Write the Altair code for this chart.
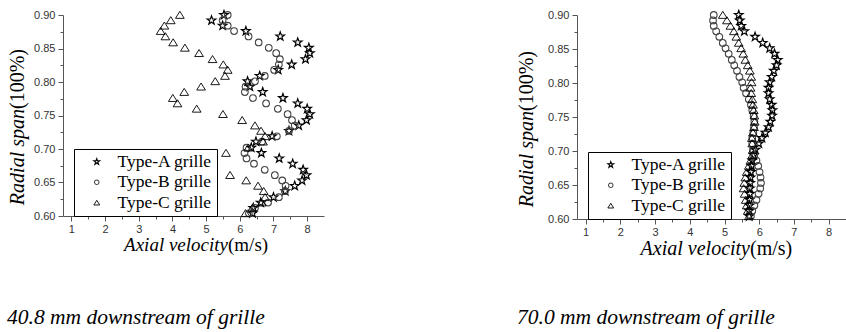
import altair as alt
import pandas as pd

# ---------------- data ----------------
span = [0.900, 0.892, 0.884, 0.876, 0.868, 0.859, 0.851, 0.843, 0.834, 0.826,
        0.818, 0.809, 0.801, 0.793, 0.785, 0.776, 0.768, 0.760, 0.752, 0.743,
        0.735, 0.727, 0.719, 0.711, 0.702, 0.694, 0.686, 0.678, 0.669, 0.661,
        0.653, 0.645, 0.637, 0.628, 0.620, 0.612, 0.604]

# 40.8 mm downstream
a40 = [5.53, 5.16, 5.49, 6.18, 7.20, 7.72, 8.05, 8.08, 7.95, 7.54,
       7.14, 6.59, 6.23, 6.30, 6.68, 7.28, 7.72, 8.00, 8.08, 7.98,
       7.75, 7.46, 6.96, 6.48, 6.34, 6.64, 7.17, 7.57, 7.88, 7.98,
       7.85, 7.63, 7.35, 7.00, 6.62, 6.40, 6.38]
b40 = [5.64, 5.49, 5.64, 5.83, 6.26, 6.56, 6.86, 7.08, 7.19, 7.16,
       7.02, 6.74, 6.45, 6.17, 6.15, 6.39, 6.78, 7.13, 7.42, 7.55,
       7.63, 7.46, 7.10, 6.66, 6.20, 6.14, 6.20, 6.42, 6.74, 7.04,
       7.26, 7.36, 7.34, 7.16, 6.84, 6.45, 6.27]
c40 = [4.22, 3.95, 3.76, 3.65, 3.79, 4.02, 4.37, 4.79, 5.19, 5.51,
       5.64, 5.56, 5.27, 4.85, 4.35, 4.01, 4.15, 4.72, 5.50, 6.07,
       6.45, 6.63, 6.75, 6.69, 6.25, 5.59, 5.00, 4.70, 5.10, 5.71,
       6.19, 6.54, 6.71, 6.75, 6.65, 6.37, 6.17]

# 70.0 mm downstream
a70 = [5.41, 5.44, 5.48, 5.57, 5.88, 6.10, 6.30, 6.44, 6.53, 6.50,
       6.42, 6.36, 6.30, 6.27, 6.27, 6.30, 6.36, 6.38, 6.37, 6.32,
       6.27, 6.18, 6.08, 5.99, 5.89, 5.84, 5.80, 5.78, 5.76, 5.75,
       5.74, 5.73, 5.73, 5.72, 5.72, 5.71, 5.71]
b70 = [4.69, 4.67, 4.69, 4.76, 4.85, 4.95, 5.03, 5.12, 5.21, 5.28,
       5.36, 5.43, 5.51, 5.55, 5.62, 5.70, 5.76, 5.80, 5.84, 5.86,
       5.85, 5.83, 5.80, 5.80, 5.82, 5.86, 5.92, 5.97, 6.01, 6.04,
       6.05, 6.03, 5.98, 5.92, 5.86, 5.80, 5.76]
c70 = [4.95, 5.07, 5.17, 5.27, 5.34, 5.41, 5.48, 5.54, 5.60, 5.67,
       5.73, 5.77, 5.78, 5.75, 5.77, 5.80, 5.82, 5.84, 5.86, 5.87,
       5.85, 5.82, 5.79, 5.80, 5.82, 5.80, 5.75, 5.70, 5.64, 5.60,
       5.57, 5.55, 5.58, 5.61, 5.64, 5.67, 5.70]

series_names = ["Type-A grille", "Type-B grille", "Type-C grille"]
x_tick_values = [1, 1.5, 2, 2.5, 3, 3.5, 4, 4.5, 5, 5.5, 6, 6.5, 7, 7.5, 8]
y_tick_values = [0.6, 0.625, 0.65, 0.675, 0.7, 0.725, 0.75, 0.775, 0.8,
                 0.825, 0.85, 0.875, 0.9]
x_domain = [0.75, 8.5]
y_domain = [0.6, 0.9]
captions = ["40.8 mm downstream of grille", "70.0 mm downstream of grille"]
x_title_parts = ["Axial velocity", "(m/s)"]
y_title_parts = ["Radial span", "(100%)"]

STAR = ("M0,-1.35L0.32,-0.44L1.28,-0.42L0.51,0.17L0.79,1.09L0,0.54"
        "L-0.79,1.09L-0.51,0.17L-1.28,-0.42L-0.32,-0.44Z")
TRI = "M0,-1.1L1.3,1.0L-1.3,1.0Z"

SERIF = "Liberation Serif"
SANS = "Liberation Sans"


def text_layer(txt, x, y, size, style, align, angle=0):
    df = pd.DataFrame({"t": [txt]})
    kw = dict(font=SERIF, fontSize=size, fontStyle=style, align=align,
              baseline="alphabetic", color="black")
    if angle:
        kw["angle"] = angle
    return alt.Chart(df).mark_text(**kw).encode(
        x=alt.value(x), y=alt.value(y), text=alt.Text("t:N"))


def panel(a, b, c, W, H, caption, leg_x, leg_y, leg_fs, geo):
    df = pd.DataFrame({
        "velocity": a + b + c,
        "span": span * 3,
        "series": [n for n in series_names for _ in span],
    })
    # legend-only table: no valid coordinates, so nothing is drawn from it
    df_leg = pd.DataFrame({
        "velocity": [None] * len(series_names),
        "span": [None] * len(series_names),
        "series": series_names,
    })
    legend = alt.Legend(
        orient="none", legendX=leg_x, legendY=leg_y, title=None,
        fillColor="white", strokeColor="black", padding=4,
        labelFont=SERIF, labelFontSize=leg_fs, labelColor="black",
        symbolSize=20, symbolStrokeWidth=1, symbolOffset=10,
        labelOffset=12, rowPadding=1.5, zindex=1,
    )
    x_axis = alt.Axis(
        values=x_tick_values, title=None, grid=False,
        tickSize={"condition": {"test": "datum.value % 1 === 0", "value": 5},
                  "value": 3},
        labelExpr="datum.value % 1 === 0 ? format(datum.value, 'd') : ''",
        labelFont=SANS, labelFontSize=11, labelColor="#333",
        domainColor="#555", tickColor="#555", labelPadding=2,
        labelOverlap=False, labelFlush=False,
    )
    y_test = "abs(datum.value*20 - round(datum.value*20)) < 0.001"
    y_axis = alt.Axis(
        values=y_tick_values, title=None, grid=False,
        tickSize={"condition": {"test": y_test, "value": 5}, "value": 3},
        labelExpr=f"{y_test} ? format(datum.value, '.2f') : ''",
        labelFont=SANS, labelFontSize=11, labelColor="#333",
        domainColor="#555", tickColor="#555", labelPadding=3,
        labelOverlap=False, labelFlush=False,
    )
    x_enc = alt.X("velocity:Q", scale=alt.Scale(domain=x_domain, nice=False, zero=False), axis=x_axis)
    y_enc = alt.Y("span:Q", scale=alt.Scale(domain=y_domain, nice=False, zero=False), axis=y_axis)
    shape_scale = alt.Scale(domain=series_names, range=[STAR, "circle", TRI])
    color_scale = alt.Scale(domain=series_names, range=["#000000", "#444444", "#000000"])
    leg_layer = alt.Chart(df_leg).mark_point(filled=False, opacity=1, size=20, strokeWidth=1).encode(
        x=x_enc, y=y_enc,
        shape=alt.Shape("series:N", scale=shape_scale, legend=legend),
        color=alt.Color("series:N", scale=color_scale, legend=legend),
    )
    pts = alt.Chart(df).mark_point(filled=False, opacity=1, size=45).encode(
        x=x_enc, y=y_enc,
        shape=alt.Shape("series:N", scale=shape_scale),
        color=alt.Color("series:N", scale=color_scale),
        strokeWidth=alt.StrokeWidth("series:N", scale=alt.Scale(domain=series_names, range=[1.2, 0.9, 1.0]), legend=None),
    )
    g = geo
    layers = [
        leg_layer,
        pts,
        text_layer(x_title_parts[0], g["xt_x"], g["xt_y"], g["xt_fs"], "italic", "right"),
        text_layer(x_title_parts[1], g["xt_x"], g["xt_y"], g["xt_fs"], "normal", "left"),
        text_layer(y_title_parts[0], g["yt_x"], g["yt_y"], 20, "italic", "right", 270),
        text_layer(y_title_parts[1], g["yt_x"], g["yt_y"], 20, "normal", "left", 270),
        text_layer(caption, g["cap_x"], g["cap_y"], 21.5, "italic", "left"),
    ]
    return alt.layer(*layers).properties(width=W, height=H)


left = panel(a40, b40, c40, 261, 201, captions[0], 11, 134, 17.5,
             dict(xt_x=165, xt_y=236, xt_fs=19, yt_x=-39, yt_y=94, cap_x=-56, cap_y=309))
right = panel(a70, b70, c70, 269, 204, captions[1], 11, 137, 17.5,
              dict(xt_x=173, xt_y=240, xt_fs=20, yt_x=-44, yt_y=96, cap_x=-60, cap_y=309))

chart = alt.hconcat(left, right, spacing=253, bounds="flush").resolve_scale(
    shape="independent", color="independent", strokeWidth="independent"
).resolve_legend(
    shape="independent", color="independent"
).configure_view(stroke=None).properties(
    padding={"left": 7, "top": 8, "right": 0, "bottom": 0},
    background="white",
)

chart.save("out.html", embed_options={"renderer": "svg", "actions": False})
